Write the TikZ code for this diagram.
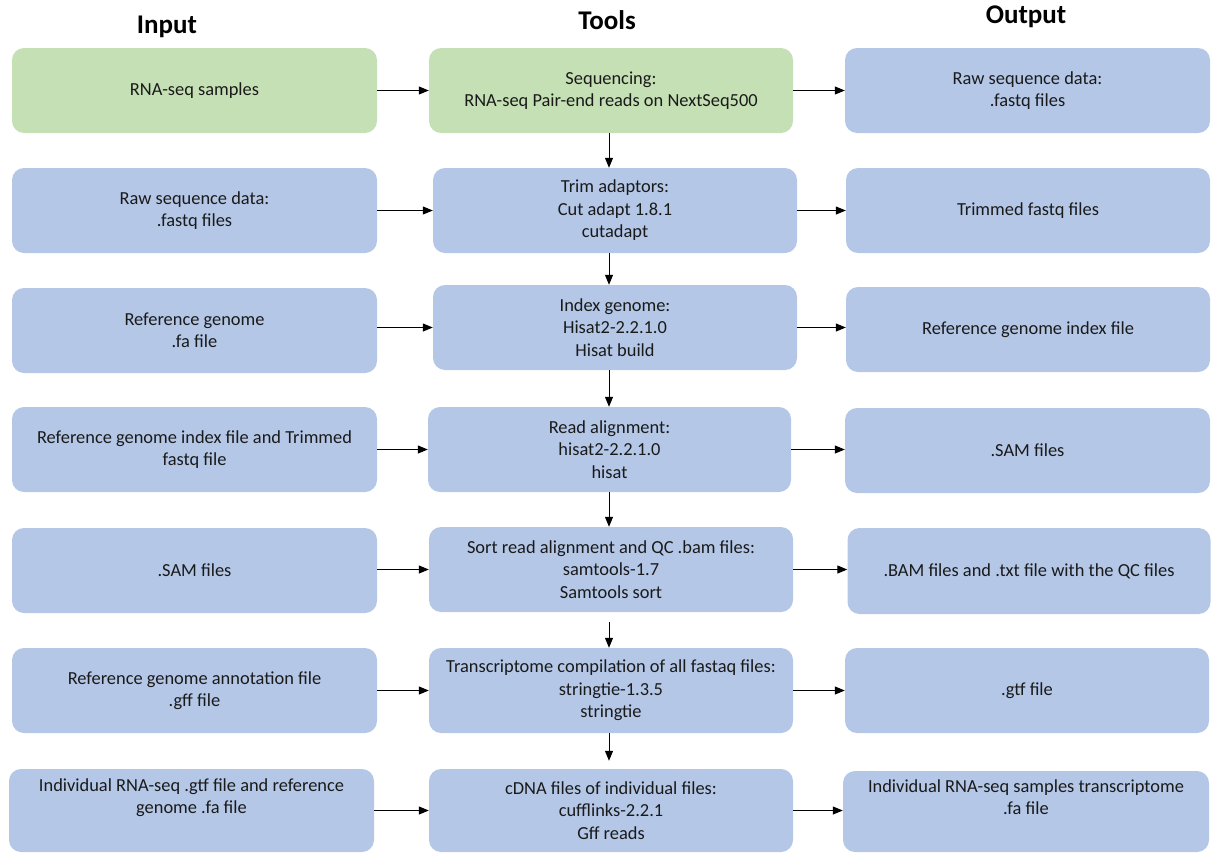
\documentclass[tikz,border=0pt]{standalone}
\usepackage{fontspec}
\setmainfont{Carlito}
\usetikzlibrary{arrows.meta}
\definecolor{boxgreen}{HTML}{C5E0B4}
\definecolor{boxblue}{HTML}{B4C7E7}
\definecolor{ink}{HTML}{1A1A1A}
\tikzset{
  stagebox/.style={fill=boxblue, draw=none, rounded corners=12pt, inner sep=0pt,
    minimum width=365pt, minimum height=85pt, align=center, text=ink,
    font=\fontsize{18.4pt}{22.5pt}\selectfont},
  seqbox/.style={stagebox, fill=boxgreen},
  header/.style={font=\fontsize{27pt}{30pt}\selectfont\bfseries, text=black, inner sep=0pt},
  flow/.style={draw=black, line width=1pt, -{Triangle[length=10pt,width=8pt]}},
}
\begin{document}
\begin{tikzpicture}[x=1pt,y=-1pt]
\useasboundingbox (0,0) rectangle (1218,854);

% column headings
\node[header] (hin) at (167,27) {Input};
\node[header] (htools) at (607,20) {Tools};
\node[header] (hout) at (1026,17) {Output};

% row 1
\node[seqbox] (i1) at (194.5,90.5) {RNA-seq samples};
\node[seqbox, minimum width=364pt] (t1) at (611,90.5) {Sequencing:\\RNA-seq Pair-end reads on NextSeq500};
\node[stagebox] (o1) at (1027.5,90.5) {Raw sequence data:\\.fastq files};

% row 2
\node[stagebox] (i2) at (194.5,210.5) {Raw sequence data:\\.fastq files};
\node[stagebox, minimum width=364pt] (t2) at (615,210.5) {Trim adaptors:\\Cut adapt 1.8.1\\cutadapt};
\node[stagebox, minimum width=364pt] (o2) at (1028,210.5) {Trimmed fastq files};

% row 3
\node[stagebox] (i3) at (194.5,330.5) {Reference genome\\.fa file};
\node[stagebox, minimum width=364pt] (t3) at (615,327.5) {Index genome:\\Hisat2-2.2.1.0\\Hisat build};
\node[stagebox, minimum width=364pt] (o3) at (1028,329.5) {Reference genome index file};

% row 4
\node[stagebox] (i4) at (194.5,449.5) {Reference genome index file and Trimmed\\fastq file};
\node[stagebox, minimum width=363pt] (t4) at (609.5,449.5) {Read alignment:\\hisat2-2.2.1.0\\hisat};
\node[stagebox] (o4) at (1027.5,450.5) {.SAM files};

% row 5
\node[stagebox] (i5) at (194.5,570.5) {.SAM files};
\node[stagebox, minimum width=364pt] (t5) at (611,569.5) {Sort read alignment and QC .bam files:\\samtools-1.7\\Samtools sort};
\node[stagebox, minimum width=363pt, minimum height=86pt] (o5) at (1029,571) {.BAM files and .txt file with the QC files};

% row 6
\node[stagebox] (i6) at (194.5,690.5) {Reference genome annotation file\\.gff file};
\node[stagebox, minimum width=364pt] (t6) at (611,690.5) {Transcriptome compilation of all fastaq files:\\stringtie-1.3.5\\stringtie};
\node[stagebox, minimum width=364pt] (o6) at (1027,690.5) {.gtf file};

% row 7
\node[stagebox, minimum height=83pt] (i7) at (191.5,810.5) {Individual RNA-seq .gtf file and reference\\genome .fa file\\\strut};
\node[stagebox, minimum width=364pt, minimum height=83pt] (t7) at (611,810.5) {cDNA files of individual files:\\cufflinks-2.2.1\\Gff reads};
\node[stagebox, minimum width=366pt, minimum height=81pt] (o7) at (1026,811.5) {Individual RNA-seq samples transcriptome\\.fa file\\\strut};

% vertical spine of the tool column
\coordinate (spine) at (609,0);

% inputs into tools, tools into outputs
\foreach \r in {1,...,7} {
  \draw[flow] (t\r.west -| i\r.east) -- (t\r.west);
  \draw[flow] (t\r.east) -- (t\r.east -| o\r.west);
}

% tool to tool
\draw[flow] (t1.south -| spine) -- (t2.north -| spine);
\draw[flow] (t2.south -| spine) -- (t3.north -| spine);
\draw[flow] (t3.south -| spine) -- (t4.north -| spine);
\draw[flow] (t4.south -| spine) -- (t5.north -| spine);
\draw[flow, shorten <=10pt] (t5.south -| spine) -- (t6.north -| spine);
\draw[flow, shorten >=8pt] (t6.south -| spine) -- (t7.north -| spine);
\end{tikzpicture}
\end{document}
